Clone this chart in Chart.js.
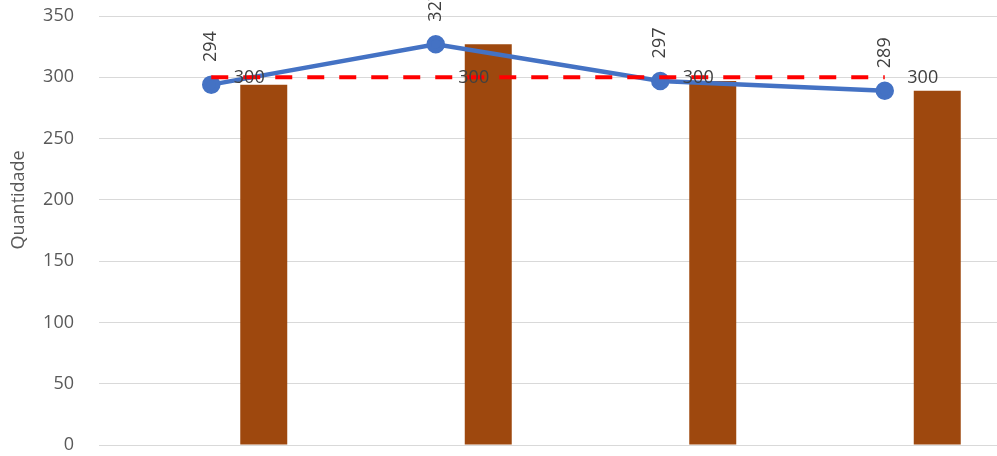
<!DOCTYPE html>
<html>
<head>
<meta charset="utf-8">
<script src="https://cdn.jsdelivr.net/npm/chart.js@4.4.0/dist/chart.umd.min.js"></script>
<style>
html,body{margin:0;padding:0;background:#fff;}
#wrap{width:997px;height:456px;position:relative;}
</style>
</head>
<body>
<div id="wrap"><canvas id="c" width="997" height="456"></canvas></div>
<script>
const categories = ["1", "2", "3", "4"];
const realizado = [294, 327, 297, 289];
const barras = [294, 327, 297, 289];
const meta = [300, 300, 300, 300];
const yTicks = [0, 50, 100, 150, 200, 250, 300, 350];
const yTitle = "Quantidade";

const FONT = "'Open Sans', sans-serif";

const labelPlugin = {
  id: 'labels',
  afterDatasetsDraw(chart) {
    const ctx = chart.ctx;
    ctx.save();
    ctx.fillStyle = '#404040';
    ctx.font = "18px " + FONT;
    ctx.textAlign = 'center';
    ctx.textBaseline = 'middle';
    const mLine = chart.getDatasetMeta(1);
    mLine.data.forEach((pt, i) => {
      ctx.save();
      ctx.translate(pt.x, pt.y - 38);
      ctx.rotate(-Math.PI / 2);
      ctx.fillText(String(realizado[i]), 0, 0);
      ctx.restore();
    });
    const mMeta = chart.getDatasetMeta(0);
    mMeta.data.forEach((pt, i) => {
      ctx.fillText(String(meta[i]), pt.x + 38, pt.y + 1);
    });
    // y-axis title
    const ys = chart.scales.y;
    ctx.fillStyle = '#595959';
    ctx.save();
    ctx.translate(19, ys.getPixelForValue(200));
    ctx.rotate(-Math.PI / 2);
    ctx.fillText(yTitle, 0, 0);
    ctx.restore();
    ctx.restore();
  }
};

new Chart(document.getElementById('c'), {
  type: 'bar',
  data: {
    labels: categories,
    datasets: [
      {
        type: 'line', label: 'Meta', data: meta, order: 0,
        borderColor: '#FF0000', borderWidth: 4, borderDash: [17, 15],
        pointRadius: 0, fill: false, tension: 0
      },
      {
        type: 'line', label: 'Realizado', data: realizado, order: 1,
        borderColor: '#4472C4', backgroundColor: '#4472C4', borderWidth: 4.5,
        pointRadius: 7, pointBackgroundColor: '#4472C4', pointBorderColor: '#4472C4',
        fill: false, tension: 0
      },
      { type: 'bar', label: 'a', data: [null, null, null, null], order: 2, backgroundColor: 'rgba(0,0,0,0)' },
      { type: 'bar', label: 'b', data: [null, null, null, null], order: 2, backgroundColor: 'rgba(0,0,0,0)' },
      {
        type: 'bar', label: 'Barras', data: barras, order: 2,
        backgroundColor: '#9E480E', borderWidth: 0
      }
    ]
  },
  options: {
    responsive: false,
    animation: false,
    datasets: { bar: { categoryPercentage: 0.7016, barPercentage: 0.895 } },
    layout: { autoPadding: false, padding: { top: 16, bottom: 11, left: 0, right: 0 } },
    plugins: { legend: { display: false }, tooltip: { enabled: false } },
    scales: {
      x: {
        display: false,
        offset: true
      },
      y: {
        min: 0, max: 350,
        afterBuildTicks(scale) { scale.ticks = yTicks.map(v => ({ value: v })); },
        afterFit(scale) { scale.width = 99; scale.paddingTop = 0; scale.paddingBottom = 0; },
        border: { display: false },
        grid: { color: '#D9D9D9', lineWidth: 1, drawTicks: false },
        ticks: { color: '#595959', font: { family: FONT, size: 18 }, padding: 25 },
        title: { display: false }
      }
    }
  },
  plugins: [labelPlugin]
});
</script>
</body>
</html>
